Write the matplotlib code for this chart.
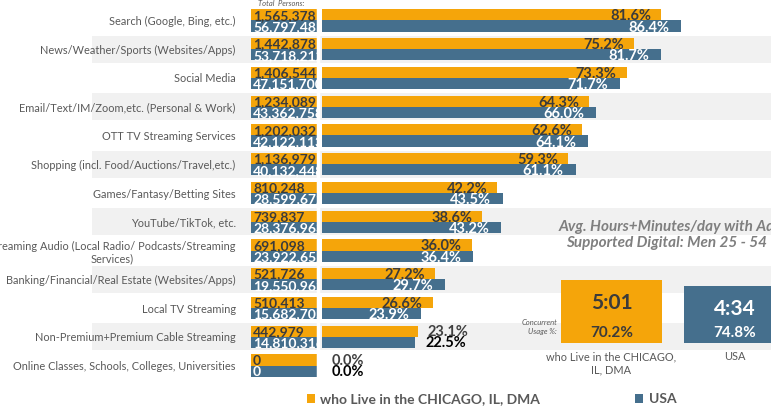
import matplotlib
matplotlib.use("Agg")
import matplotlib.pyplot as plt
import numpy as np

plt.rcParams['font.family'] = ['Lato', 'DejaVu Sans']

# data
categories = ["Search (Google, Bing, etc.)",
              "News/Weather/Sports (Websites/Apps)",
              "Social Media",
              "Email/Text/IM/Zoom,etc. (Personal & Work)",
              "OTT TV Streaming Services",
              "Shopping (incl. Food/Auctions/Travel,etc.)",
              "Games/Fantasy/Betting Sites",
              "YouTube/TikTok, etc.",
              "Streaming Audio (Local Radio/ Podcasts/Streaming\nServices)",
              "Banking/Financial/Real Estate (Websites/Apps)",
              "Local TV Streaming",
              "Non-Premium+Premium Cable Streaming",
              "Online Classes, Schools, Colleges, Universities"]
chicago_persons = [1565378, 1442878, 1406544, 1234089, 1202032, 1136979,
                   810248, 739837, 691098, 521726, 510413, 442979, 0]
usa_persons = [56797481, 53718212, 47151700, 43362758, 42122113, 40132448,
               28599672, 28376963, 23922652, 19550962, 15682705, 14810316, 0]
chicago_pct = [81.6, 75.2, 73.3, 64.3, 62.6, 59.3, 42.2, 38.6, 36.0, 27.2, 26.6, 23.1, 0.0]
usa_pct = [86.4, 81.7, 71.7, 66.0, 64.1, 61.1, 43.5, 43.2, 36.4, 29.7, 23.9, 22.5, 0.0]

panel_groups = ["who Live in the CHICAGO,\nIL, DMA", "USA"]
panel_minutes = [301, 274]   # 5:01 and 4:34
panel_concurrent = [70.2, 74.8]

ORANGE = '#F5A50A'
BLUE = '#456F8D'
GRAY = '#595959'
DARK = '#3b3b3b'

W, H = 771, 411
fig = plt.figure(figsize=(W / 100, H / 100), dpi=100)

n = len(categories)
y = np.arange(n)
bh = 0.39
bottom = 1 - 379.9 / H
height = 373.8 / H

# background bands
bg = fig.add_axes([92 / W, bottom, 1 - 92 / W, height])
bg.set_xlim(0, 1)
bg.set_ylim(n - 0.5, -0.5)
bg.axis('off')
for i in range(1, n, 2):
    bg.axhspan(i - 0.47, i + 0.47, color='#f1f1f1', lw=0)

# person counts boxes
cax = fig.add_axes([251 / W, bottom, 67 / W, height])
cax.patch.set_alpha(0)
cax.set_xlim(0, 1)
cax.set_ylim(n - 0.5, -0.5)
cax.barh(y - bh / 2, [1] * n, height=bh, color=ORANGE)
cax.barh(y + bh / 2, [1] * n, height=bh, color=BLUE)
for i in range(n):
    cax.text(0.03, i - bh / 2 + 0.03, f"{chicago_persons[i]:,}", ha='left', va='center',
             fontsize=10, fontweight='bold', color=DARK, clip_on=True)
    cax.text(0.03, i + bh / 2 + 0.03, f"{usa_persons[i]:,}", ha='left', va='center',
             fontsize=10, fontweight='bold', color='white', clip_on=True)
cax.set_xticks([])
cax.set_yticks(y)
cax.set_yticklabels(categories, fontsize=7.9, color=GRAY, multialignment='center')
cax.tick_params(axis='y', length=0, pad=11)
for s in ['top', 'left', 'bottom']:
    cax.spines[s].set_visible(False)
cax.spines['right'].set_color('white')
cax.spines['right'].set_linewidth(2.5)

# percentage bars
ax = fig.add_axes([322 / W, bottom, 449 / W, height])
ax.patch.set_alpha(0)
ax.set_xlim(0, 449 / 4.155)
ax.set_ylim(n - 0.5, -0.5)
b1 = ax.barh(y - bh / 2, chicago_pct, height=bh, color=ORANGE,
             label="who Live in the CHICAGO, IL, DMA")
b2 = ax.barh(y + bh / 2, usa_pct, height=bh, color=BLUE, label="USA")
outside_rows = {n - 2, n - 1}
for i in range(n):
    if i in outside_rows:
        ax.text(chicago_pct[i] + 2.4, i - bh / 2 + 0.03, f"{chicago_pct[i]:.1f}%", ha='left',
                va='center', fontsize=10.5, fontweight='bold', color='#404040')
        ax.text(usa_pct[i] + 2.4, i + bh / 2 + 0.03, f"{usa_pct[i]:.1f}%", ha='left',
                va='center', fontsize=10.5, fontweight='bold', color='black')
    else:
        ax.text(chicago_pct[i] - 2.4, i - bh / 2 + 0.05, f"{chicago_pct[i]:.1f}%", ha='right',
                va='center', fontsize=10.5, fontweight='bold', color=DARK)
        ax.text(usa_pct[i] - 2.9, i + bh / 2 + 0.05, f"{usa_pct[i]:.1f}%", ha='right',
                va='center', fontsize=10.5, fontweight='bold', color='white')
ax.axis('off')

fig.text(258 / W, 1 - 4 / H, "Total  Persons:", fontsize=5.5, style='italic',
         color=GRAY, ha='left', va='center')

# right panel columns
pax = fig.add_axes([549.75 / W, 1 - 343 / H, 247 / W, 67 / H])
pax.patch.set_alpha(0)
pax.set_xlim(-0.5, 1.5)
pax.set_ylim(0, 320)
pax.bar([0, 1], panel_minutes, width=0.82, color=[ORANGE, BLUE])
tcol = [DARK, 'white']
for i, m in enumerate(panel_minutes):
    pax.text(i, m - 110, f"{m // 60}:{m % 60:02d}", ha='center', va='center',
             fontsize=15, fontweight='bold', color=tcol[i])
    pax.text(i, 48, f"{panel_concurrent[i]:.1f}%", ha='center', va='center',
             fontsize=11, fontweight='bold', color=tcol[i])
pax.set_xticks([0, 1])
pax.set_xticklabels(panel_groups, fontsize=7.9, color=GRAY)
pax.tick_params(axis='x', length=0, pad=6)
pax.set_yticks([])
for s in pax.spines.values():
    s.set_visible(False)

fig.text(667 / W, 1 - 235 / H, "Avg. Hours+Minutes/day with Ad\nSupported Digital: Men 25 - 54",
         ha='center', va='center', fontsize=11, fontweight='bold', style='italic',
         color='#7f7f7f', linespacing=1.15)
fig.text(557 / W, 1 - 327 / H, "Concurrent\nUsage %:", ha='right', va='center',
         fontsize=5.5, style='italic', color=GRAY, multialignment='right')

fig.legend(handles=[b1, b2], loc='center left', bbox_to_anchor=(294 / W, 1 - 399 / H),
           ncol=2, frameon=False, handlelength=0.6, handleheight=0.6, handletextpad=0.4,
           columnspacing=6.8, prop={'size': 10, 'weight': 'bold'}, labelcolor=GRAY)

fig.savefig("out.png", dpi=100)
